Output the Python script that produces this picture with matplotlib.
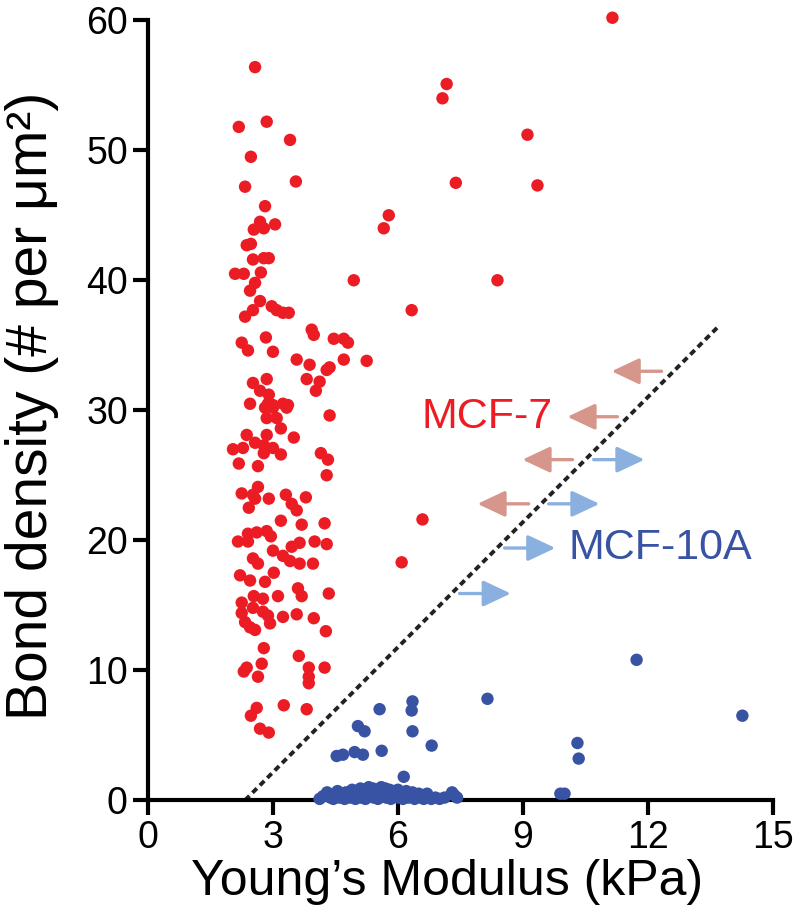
import matplotlib
matplotlib.use("Agg")
import matplotlib.pyplot as plt

plt.rcParams['font.family'] = ['Liberation Sans', 'DejaVu Sans']

# MCF-7 cells (red)
mcf7_x = [11.15, 7.17, 7.07, 9.11, 7.39, 9.35, 5.78, 5.66, 8.39, 4.94, 6.33, 5.25, 6.59, 6.09,
          2.57, 2.18, 2.85, 3.41, 2.47, 2.33, 3.55, 2.81, 2.69, 3.05, 2.54, 2.78,
          2.37, 2.47, 2.52, 2.78, 2.90, 2.09, 2.30, 2.71, 2.57, 2.45, 2.69, 2.97, 3.09, 3.24, 3.38,
          2.52, 2.33, 3.93, 3.98, 4.46, 4.70, 4.80, 2.25, 2.83, 2.40, 3.00, 3.57, 3.88, 4.29, 4.36,
          4.70, 3.81, 4.12, 4.03, 2.52, 2.85, 2.69, 2.90, 2.45, 2.88, 3.00, 3.24, 3.36,
          2.81, 3.00, 3.33, 4.36, 2.85, 3.09, 3.19, 2.37, 2.85, 3.50, 2.04, 2.28, 2.57, 2.78, 3.00,
          2.78, 3.19, 4.15, 4.32, 2.18, 2.64, 4.29, 2.64, 2.25, 2.52, 2.57, 2.90, 3.31, 3.79,
          3.45, 3.57, 2.42, 3.19, 3.69, 4.24, 2.40, 2.61, 2.85, 2.95, 2.16, 2.40, 3.45, 3.64,
          4.00, 4.29, 3.00, 3.24, 3.41, 2.52, 2.64, 3.64, 3.96, 2.21, 2.45, 2.81, 3.02,
          3.60, 3.69, 4.34, 2.54, 2.76, 2.25, 3.12, 2.25, 2.52, 2.76, 2.88, 3.24, 3.57, 3.98,
          2.33, 2.45, 2.57, 2.93, 4.27, 2.78, 3.62, 2.73, 2.37, 2.30, 2.64, 3.86, 3.86, 3.86,
          4.24, 2.61, 2.47, 3.26, 3.81, 2.69, 2.90]
mcf7_y = [60.2, 55.1, 54.0, 51.2, 47.5, 47.3, 45.0, 44.0, 40.0, 40.0, 37.7, 33.8, 21.6, 18.3,
          56.4, 51.8, 52.2, 50.8, 49.5, 47.2, 47.6, 45.7, 44.5, 44.3, 43.9, 44.0,
          42.7, 42.8, 41.6, 41.7, 41.7, 40.5, 40.5, 40.6, 39.8, 39.2, 38.4, 38.0, 37.7, 37.5, 37.5,
          37.7, 37.2, 36.2, 35.8, 35.5, 35.5, 35.2, 35.2, 35.6, 34.6, 34.5, 33.9, 33.5, 33.1, 33.3,
          33.9, 32.4, 32.2, 31.5, 32.1, 32.4, 31.5, 31.2, 30.5, 30.5, 30.4, 30.5, 30.4,
          30.2, 30.2, 30.2, 29.6, 29.4, 29.4, 28.6, 28.1, 28.1, 27.9, 27.0, 27.1, 27.5, 27.3, 27.1,
          26.7, 26.6, 26.7, 26.2, 25.9, 25.7, 25.0, 24.1, 23.6, 23.5, 23.2, 23.2, 23.5, 23.3,
          22.8, 22.3, 22.5, 21.5, 21.2, 21.3, 20.5, 20.6, 20.7, 20.3, 19.9, 19.9, 19.5, 19.8,
          19.9, 19.7, 19.2, 18.8, 18.4, 18.6, 18.2, 18.2, 18.2, 17.3, 16.9, 16.8, 17.5,
          16.3, 15.7, 15.9, 15.7, 15.5, 15.2, 15.7, 14.4, 14.8, 14.5, 14.2, 14.1, 14.3, 14.0,
          13.7, 13.3, 13.1, 13.6, 13.0, 11.7, 11.1, 10.5, 10.2, 9.9, 9.5, 10.2, 9.5, 9.0,
          10.2, 7.1, 6.5, 7.3, 7.0, 5.5, 5.2]

# MCF-10A cells (blue)
mcf10a_x = [8.15, 6.35, 6.33, 5.56, 5.04, 5.20, 6.35, 6.81, 5.61, 4.53, 4.68, 4.96, 5.16, 6.14,
            11.73, 14.27, 10.31, 10.34, 9.90, 10.00,
            4.12, 4.20, 4.30, 4.38, 4.45, 4.52, 4.60, 4.66, 4.72, 4.80, 4.86, 4.92, 4.98, 5.03,
            5.08, 5.12, 5.17, 5.22, 5.27, 5.32, 5.37, 5.42, 5.47, 5.52, 5.57, 5.62, 5.67, 5.72,
            5.78, 5.83, 5.88, 5.94, 6.00, 6.06, 6.12, 6.18, 6.25, 6.32, 6.40, 6.48, 6.55, 6.62,
            6.70, 6.80, 6.90, 7.00, 7.12, 7.30, 7.42,
            4.30, 4.55, 4.75, 4.90, 5.00, 5.10, 5.20, 5.30, 5.40, 5.50, 5.60, 5.70, 5.80, 5.90,
            6.00, 6.10, 6.20, 6.35, 6.50, 6.70, 7.35]
mcf10a_y = [7.8, 7.6, 6.9, 7.0, 5.7, 5.3, 5.3, 4.2, 3.8, 3.4, 3.5, 3.7, 3.5, 1.8,
            10.8, 6.5, 4.4, 3.2, 0.5, 0.5,
            0.1, 0.3, 0.5, 0.2, 0.1, 0.4, 0.2, 0.3, 0.1, 0.4, 0.2, 0.5, 0.1, 0.3,
            0.6, 0.2, 0.4, 0.1, 0.5, 0.3, 0.7, 0.2, 0.4, 0.1, 0.6, 0.3, 0.5, 0.2,
            0.4, 0.1, 0.6, 0.3, 0.2, 0.5, 0.1, 0.4, 0.2, 0.3, 0.1, 0.4, 0.2, 0.1,
            0.3, 0.1, 0.2, 0.1, 0.2, 0.6, 0.2,
            0.6, 0.7, 0.6, 0.8, 0.7, 0.9, 0.8, 1.0, 0.9, 0.8, 1.0, 0.9, 0.8, 0.7,
            0.8, 0.6, 0.7, 0.6, 0.5, 0.5, 0.4]

# threshold line
line_x = [2.33, 13.68]
line_y = [0.0, 36.4]

# arrows: (tail x, tip x, y)
red_arrows = [(12.33, 11.13, 33.0), (11.27, 10.07, 29.5), (10.19, 8.99, 26.2), (9.14, 7.91, 22.8)]
blue_arrows = [(10.70, 11.92, 26.2), (9.62, 10.84, 22.8), (8.56, 9.78, 19.4), (7.48, 8.71, 15.9)]

xticks = [0, 3, 6, 9, 12, 15]
yticks = [0, 10, 20, 30, 40, 50, 60]

fig = plt.figure(figsize=(8, 9.24), dpi=100)
ax = fig.add_axes([0.185, 0.134, 0.781, 0.844])

ax.scatter(mcf7_x, mcf7_y, s=80, color='#EC1C24', edgecolors='none', zorder=3, clip_on=False)
ax.scatter(mcf10a_x, mcf10a_y, s=80, color='#3953A4', edgecolors='none', zorder=4, clip_on=False)

ax.plot(line_x, line_y, color='#222222', lw=2.8, linestyle=(0, (1.6, 1.1)), zorder=2)

for tail, tip, yy in red_arrows:
    ax.annotate('', xy=(tip, yy), xytext=(tail, yy),
                arrowprops=dict(arrowstyle='-|>,head_length=0.85,head_width=0.4', mutation_scale=20,
                                lw=2.4, color='#D6968C', shrinkA=0, shrinkB=0))
for tail, tip, yy in blue_arrows:
    ax.annotate('', xy=(tip, yy), xytext=(tail, yy),
                arrowprops=dict(arrowstyle='-|>,head_length=0.85,head_width=0.4', mutation_scale=20,
                                lw=2.4, color='#8AB0E0', shrinkA=0, shrinkB=0))

ax.text(8.15, 29.5, 'MCF-7', color='#EC1C24', fontsize=31, ha='center', va='center')
ax.text(12.3, 19.4, 'MCF-10A', color='#3953A4', fontsize=31, ha='center', va='center')

ax.set_xlim(0, 15)
ax.set_ylim(0, 60)
ax.set_xticks(xticks)
ax.set_yticks(yticks)
ax.tick_params(labelsize=27, width=3, length=11, direction='out')
for side in ['top', 'right']:
    ax.spines[side].set_visible(False)
for side in ['left', 'bottom']:
    ax.spines[side].set_linewidth(3)

ax.set_xlabel('Young\u2019s Modulus (kPa)', fontsize=36)
ax.xaxis.set_label_coords(0.478, -0.075)
ax.set_ylabel('Bond density (# per \u03bcm\u00b2)', fontsize=41)
ax.yaxis.set_label_coords(-0.142, 0.506)

fig.savefig('out.png', dpi=100)
